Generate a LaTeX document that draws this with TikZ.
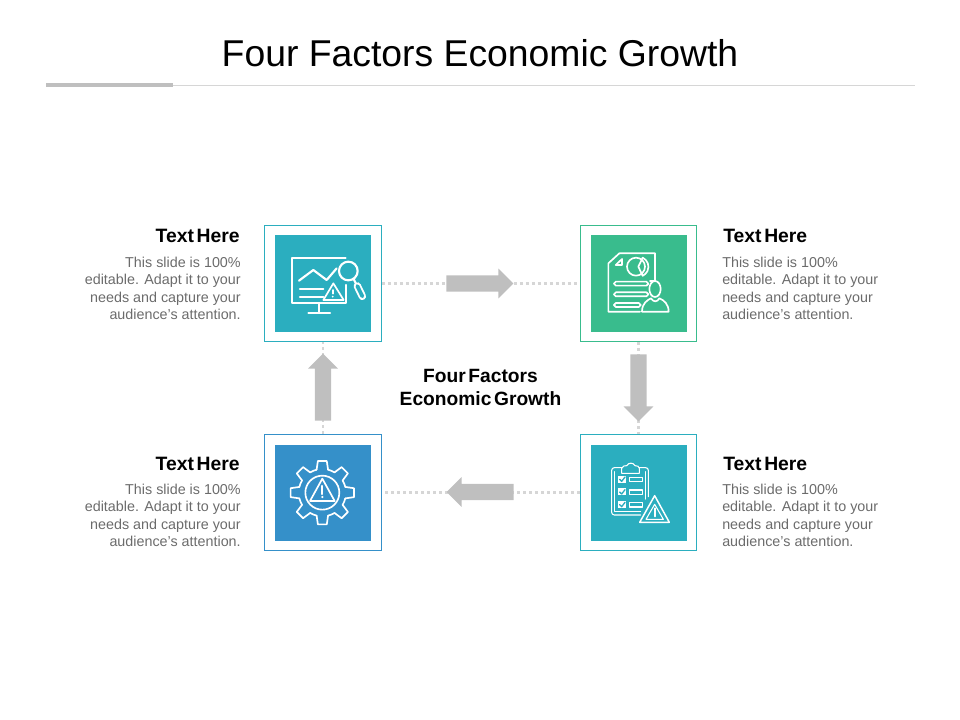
\documentclass[tikz,border=0pt]{standalone}
\usepackage{fontspec}
\setmainfont{Liberation Sans}
\newfontfamily\headfont[WordSpace=0.5]{Liberation Sans}
\usetikzlibrary{shapes.arrows}
\definecolor{cteal}{HTML}{2BAEBF}
\definecolor{cgreen}{HTML}{39BC8D}
\definecolor{cblue}{HTML}{3590C9}
\definecolor{cgray}{HTML}{BFBFBF}
\definecolor{cdot}{HTML}{D6D6D6}
\definecolor{cbody}{HTML}{6B6B6B}
\tikzset{
 outerbox/.style={draw=#1,line width=.8pt,fill=white,minimum width=87.5pt,minimum height=87.5pt,inner sep=0pt},
 innerbox/.style={fill=#1,minimum width=72pt,minimum height=72pt,inner sep=0pt},
 dotline/.style={cdot,line width=1.7pt,dash pattern=on 2.2pt off 2.3pt},
 flow/.style={shape=single arrow,fill=cgray,inner sep=0pt,minimum height=50.25pt,single arrow head extend=5.1pt,single arrow tip angle=90,anchor=tail,rotate=#1},
 icon/.style={white,line width=1.6pt,line join=round,line cap=round},
 iconmid/.style={white,line width=1.25pt,line join=round,line cap=round},
 iconthin/.style={white,line width=.8pt,line join=round,line cap=round},
 heading/.style={font=\fontsize{14.5}{16}\headfont\bfseries,text=black,inner sep=0pt},
 bodytext/.style={font=\fontsize{10.75}{13.2}\selectfont,text=cbody,inner sep=0pt},
}
\newcommand{\bodyR}{This slide is 100\%\\editable. Adapt it to your\\needs and capture your\\audience's attention.}
\newcommand{\arrowbody}{\rule{0pt}{11.8pt}}
\begin{document}
\begin{tikzpicture}[x=.75pt,y=-.75pt]
\useasboundingbox (0,0) rectangle (960,720);
% title
\node[font=\fontsize{28}{32}\selectfont,text=black,inner sep=0pt,anchor=base] (title) at (480,66.5) {Four Factors Economic Growth};
\fill[cgray] (46,83) rectangle (173,87);
\draw[cdot,line width=.6pt] (173,85.2) -- (915,85.2);
% boxes
\node[outerbox=cteal] (tl) at (323,283.5) {};
\node[outerbox=cgreen] (tr) at (638.5,283.5) {};
\node[outerbox=cblue] (bl) at (323,492.5) {};
\node[outerbox=cteal] (br) at (638.5,492.5) {};
\node[innerbox=cteal] (tli) at (tl) {};
\node[innerbox=cgreen] (tri) at (tr) {};
\node[innerbox=cblue] (bli) at (bl) {};
\node[innerbox=cteal] (bri) at (br) {};
% dotted connectors
\draw[dotline] (tl) -- (tr);
\draw[dotline] (tr) -- (br);
\draw[dotline] (br) -- (bl);
\draw[dotline] (bl) -- (tl);
% block arrows
\node[flow=0] (a1) at (446,283.5) {\arrowbody};
\node[flow=-90] (a2) at (638.5,354) {\arrowbody};
\node[flow=180] (a3) at (514,492) {\arrowbody};
\node[flow=90] (a4) at (323,421) {\arrowbody};
% centre
\node[font=\fontsize{14.4}{17}\headfont\bfseries,align=center,inner sep=0pt] (centre) at (480.5,387.5) {Four Factors\\Economic Growth};
% text
\node[heading,anchor=base east] (h1) at (240,243) {Text Here};
\node[heading,anchor=base west] (h2) at (723,243) {Text Here};
\node[heading,anchor=base east] (h3) at (240,470) {Text Here};
\node[heading,anchor=base west] (h4) at (723,470) {Text Here};
\node[bodytext,align=right,anchor=north east] (b1) at (241,256.5) {\bodyR};
\node[bodytext,align=left,anchor=north west] (b2) at (722,256.5) {\bodyR};
\node[bodytext,align=right,anchor=north east] (b3) at (241,483.5) {\bodyR};
\node[bodytext,align=left,anchor=north west] (b4) at (722,483.5) {\bodyR};
% icon TL
\begin{scope}[shift={(255,215)},x=.25pt,y=-.25pt]
\draw[icon] (272,130) -- (110,130) -- (110,265) -- (272,265) -- (272,210);
\draw[icon] (193,265) -- (193,293) (160,293) -- (225,293);
\draw[icon] (132,197) -- (175,165) -- (215,195) -- (245,160);
\draw[icon] (135,222) -- (205,222) (135,247) -- (205,247);
\draw[iconmid,fill=cteal] (205,255) -- (266,255) -- (235,205) -- cycle;
\draw[iconmid] (233,225) -- (233,236);
\fill[white] (233,245) circle (3);
\draw[icon,fill=cteal] (280,168) circle (28);
\draw[icon] (296,192) -- (303,206);
\draw[white,line width=5.6pt,line cap=round] (307,213) -- (322,244);
\draw[cteal,line width=2.8pt,line cap=round] (307,213) -- (322,244);
\end{scope}
% icon TR
\begin{scope}[shift={(570,215)},x=.25pt,y=-.25pt]
\draw[iconmid] (240,198) -- (255,198) -- (255,115) -- (148,115) -- (115,145) -- (115,290) -- (210,290);
\draw[iconmid] (137,150) -- (156,132) -- (156,150) -- cycle;
\draw[iconmid] (198,155) circle (27);
\draw[iconmid] (205,155) -- (218,128) arc (-65:65:30) -- cycle;
\draw[iconmid,rounded corners=1.4pt] (235,200) rectangle (132,212);
\draw[iconmid,rounded corners=1.4pt] (235,232) rectangle (132,244);
\draw[iconmid,rounded corners=1.4pt] (212,264) rectangle (132,276);
\draw[iconmid] (255,222) ellipse (17 and 24);
\draw[iconmid] (216,290) .. controls (216,265) and (232,255) .. (243,250) .. controls (250,262) and (262,262) .. (268,250) .. controls (282,255) and (296,268) .. (296,290) -- cycle;
\end{scope}
% icon BL
\begin{scope}[shift={(255,425)},x=.25pt,y=-.25pt,shift={(202,203)}]
\foreach \a in {0,45,...,315}{
 \draw[iconmid] (\a-14:71) -- (\a-8:96) -- (\a+8:96) -- (\a+14:71);
 \draw[iconmid] (\a+14:71) arc[start angle=\a+14,end angle=\a+31,x radius=71,y radius=71];
}
\draw[iconmid] (0,0) circle (51);
\draw[iconmid] (-37,25) -- (37,25) -- (0,-42) -- cycle;
\draw[icon] (0,-20) -- (0,4);
\fill[white] (0,13) circle (3.5);
\end{scope}
% icon BR
\begin{scope}[shift={(570,425)},x=.25pt,y=-.25pt]
\draw[iconthin,rounded corners=2pt] (155,128) -- (125,128) -- (125,270) -- (212,270);
\draw[iconthin,rounded corners=2pt] (208,128) -- (235,128) -- (235,215);
\draw[iconthin] (134,140) -- (134,260) -- (212,260);
\draw[iconthin] (226,140) -- (226,222);
\draw[iconthin,fill=cteal] (155,145) -- (155,130) .. controls (158,122) and (165,122) .. (170,122) .. controls (175,112) and (190,112) .. (195,122) .. controls (202,122) and (208,124) .. (208,130) -- (208,145) -- cycle;
\foreach \y in {152,190,228}{
 \fill[white] (145,\y) rectangle (168,\y+21);
 \draw[cteal,line width=1pt,line cap=round,line join=round] (149,\y+11) -- (155,\y+17) -- (165,\y+4);
 \draw[iconthin] (178,\y+5) rectangle (218,\y+18);
}
\draw[icon,line width=1.1pt] (209,292) -- (298,292) -- (254,212) -- cycle;
\draw[iconthin] (228,283) -- (280,283) -- (254,238) -- cycle;
\draw[icon] (254,250) -- (254,274);
\end{scope}
\end{tikzpicture}
\end{document}
